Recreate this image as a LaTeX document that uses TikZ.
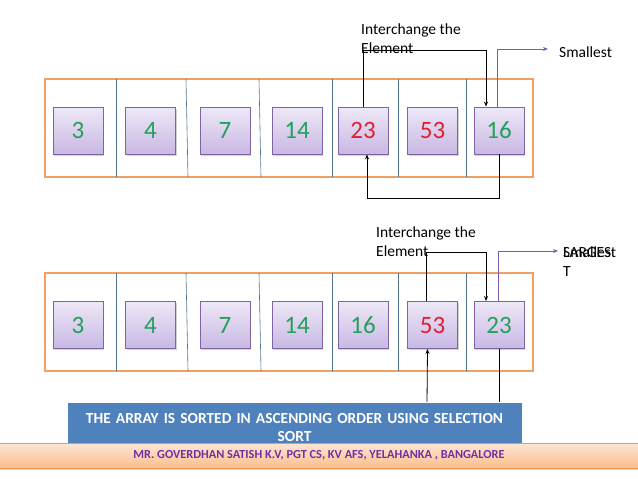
\documentclass[tikz,border=0pt]{standalone}
\usepackage{fontspec}
\setmainfont{Carlito}
\usetikzlibrary{arrows.meta,shadows}
\definecolor{numgreen}{RGB}{34,160,90}
\definecolor{numred}{RGB}{228,30,50}
\definecolor{cellborder}{RGB}{128,100,162}
\definecolor{celltop}{RGB}{238,232,247}
\definecolor{cellbot}{RGB}{200,184,228}
\definecolor{arrorange}{RGB}{240,160,100}
\definecolor{divblue}{RGB}{80,115,145}
\definecolor{purline}{RGB}{128,90,170}
\definecolor{bannerblue}{RGB}{79,129,189}
\definecolor{bantop}{RGB}{253,230,212}
\definecolor{banbot}{RGB}{250,190,140}
\definecolor{banborder}{RGB}{240,150,80}
\definecolor{bantext}{RGB}{112,48,160}
\begin{document}
\begin{tikzpicture}[x=1pt,y=-1pt,
  cell/.style={draw=cellborder, line width=0.8pt, top color=celltop, bottom color=cellbot,
    minimum width=50pt, minimum height=47pt, inner sep=0pt, font=\fontsize{25}{25}\selectfont,
    drop shadow={shadow xshift=1.2pt, shadow yshift=-1.5pt, opacity=0.35}},
  gn/.style={cell, text=numgreen},
  rd/.style={cell, text=numred},
  arrbox/.style={draw=arrorange, line width=1.6pt},
  divider/.style={draw=divblue, line width=0.6pt},
  lbl/.style={font=\fontsize{15.5}{19}\selectfont, inner sep=0pt, align=left},
  blk/.style={draw=black, line width=0.8pt},
  tip/.style={-{Stealth[length=5pt,width=4pt]}},
  pur/.style={draw=purline, line width=0.8pt, -{Stealth[length=5pt,width=4pt]}}
]
\useasboundingbox (0,0) rectangle (638,479);

% ---------- top array ----------
\draw[arrbox] (45,79) rectangle (533,177);
\foreach \xa/\xb in {116/116, 186/188, 259/261, 332/332, 398/398, 466/466}
  \draw[divider] (\xa,79) -- (\xb,177);
\node[gn] (a1) at (78,130.5) {3};
\node[gn] (a2) at (150.5,130.5) {4};
\node[gn] (a3) at (225,130.5) {7};
\node[gn] (a4) at (297,130.5) {14};
\node[rd] (a5) at (363,130.5) {23};
\node[rd] (a6) at (432.5,130.5) {53};
\node[gn] (a7) at (499,130.5) {16};

\node[lbl, anchor=base west] (i1) at (361,53) {Interchange the\\Element};
\node[lbl, anchor=base west] (s1) at (559,57) {Smallest};
\coordinate (t1) at (486,50);
\coordinate (p1) at (548,49);
\draw[blk, tip] (a5.north) |- (t1) -- (t1 |- a7.north);
\draw[pur] ([xshift=-2pt]a7.north) |- (p1);
\draw[blk, tip] (a7.south) -- ++(0,44) -| ([xshift=4pt]a5.south);

% ---------- bottom array ----------
\draw[arrbox] (45,273) rectangle (533,371);
\foreach \xa/\xb in {116/116, 186/188, 259/261, 332/332, 398/398, 466/466}
  \draw[divider] (\xa,273) -- (\xb,371);
\node[gn] (b1) at (78,325) {3};
\node[gn] (b2) at (150.5,325) {4};
\node[gn] (b3) at (225,325) {7};
\node[gn] (b4) at (297,325) {14};
\node[gn] (b5) at (363,325) {16};
\node[rd] (b6) at (432.5,325) {53};
\node[gn] (b7) at (499,325) {23};

\node[lbl, anchor=base west] (i2) at (376,256) {Interchange the\\Element};
\node[lbl, anchor=base west] (s2) at (563,257) {Smallest};
\node[lbl, anchor=base west] (l2) at (563,276) {LARGES\\T};
\coordinate (t2) at (486,252);
\coordinate (p2) at (558,251);
\draw[blk, tip] ([xshift=-6pt]b6.north) |- (t2) -- (t2 |- b7.north);
\draw[pur] ([xshift=-1pt]b7.north) |- (p2);
\coordinate (f1) at (427,404);
\coordinate (f2) at (499,404);
\draw[blk, tip] (f1) -- ([xshift=-5pt]b6.south);
\draw[blk] (b7.south) -- (f2);

% ---------- banners ----------
\node[fill=bannerblue, draw=white, line width=1pt, minimum width=455pt, minimum height=52pt,
  inner sep=0pt, text width=445pt, align=center, text=white,
  font=\fontsize{15.4}{18}\bfseries\selectfont,
  drop shadow={shadow xshift=1pt, shadow yshift=-1pt, opacity=0.25}]
  (bn) at (294.5,428) {THE ARRAY IS SORTED IN ASCENDING ORDER USING SELECTION\\SORT};
\node[draw=banborder, line width=0.8pt, top color=bantop, bottom color=banbot,
  minimum width=639pt, minimum height=25pt, inner sep=0pt, text=bantext,
  font=\fontsize{12.3}{12.3}\bfseries\selectfont,
  drop shadow={shadow xshift=0pt, shadow yshift=-2pt, opacity=0.3}]
  (ob) at (319,455.5) {MR. GOVERDHAN SATISH K.V, PGT CS, KV AFS, YELAHANKA , BANGALORE};
\end{tikzpicture}
\end{document}
